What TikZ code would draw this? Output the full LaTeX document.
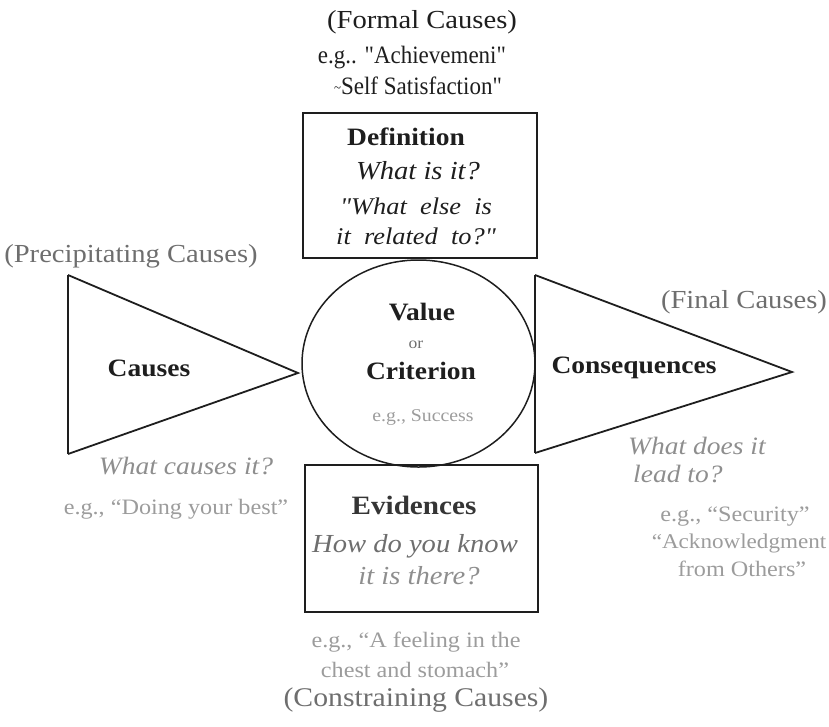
\documentclass[tikz,border=0pt]{standalone}
\usepackage{fontspec}
\setmainfont{Liberation Serif}[FakeStretch=1.1, Ligatures=TeXOff]
\newfontfamily\narrowfont{Liberation Serif}[FakeStretch=0.92, Ligatures=TeXOff]
\usetikzlibrary{shapes.geometric}
\definecolor{ink}{HTML}{1E1E1E}
\definecolor{midgray}{HTML}{6E6E6E}
\definecolor{lightgray}{HTML}{8E8E8E}
\definecolor{palegray}{HTML}{9C9C9C}
\newcommand{\sq}{\symbol{"22}}
\tikzset{
  box/.style={draw=ink, line width=1.8pt},
  tri/.style={draw=ink, line width=1.8pt, line join=miter},
  bold/.style={font=\fontsize{25}{28}\selectfont\bfseries, text=ink, inner sep=0pt},
  ital/.style={font=\fontsize{24}{28}\selectfont\itshape, text=ink, inner sep=0pt},
  grayital/.style={font=\fontsize{25}{28}\selectfont\itshape, text=lightgray, inner sep=0pt},
  grayhead/.style={font=\fontsize{26}{28}\selectfont, text=midgray, inner sep=0pt},
  grayeg/.style={font=\fontsize{22}{26}\selectfont, text=palegray, inner sep=0pt, align=center},
  tophead/.style={font=\fontsize{26}{28}\selectfont, text=ink, inner sep=0pt},
  topeg/.style={font=\narrowfont\fontsize{25}{28}\selectfont, text=ink, inner sep=0pt}
}
\begin{document}
\begin{tikzpicture}[x=1pt,y=-1pt]
\useasboundingbox (0,0) rectangle (829,726);
% shapes
\node[box, draw, minimum width=234pt, minimum height=145pt, inner sep=0pt] (defbox) at (420,185.5) {};
\node[box, draw, minimum width=233pt, minimum height=147pt, inner sep=0pt] (evbox) at (421.5,538.5) {};
\node[ellipse, draw=ink, line width=1.5pt, minimum width=233pt, minimum height=207pt, inner sep=0pt] (val) at (418.5,363.5) {};
\coordinate (lt) at (68,275);
\coordinate (lb) at (68,454);
\coordinate (ltip) at (298,373);
\coordinate (rt) at (535,275);
\coordinate (rb) at (535,453);
\coordinate (rtip) at (792,372);
\draw[tri] (lt) -- (ltip) -- (lb);
\draw[draw=ink, line width=1.2pt] (lt) -- (lb);
\draw[tri] (rt) -- (rtip) -- (rb);
\draw[draw=ink, line width=1.2pt] (rt) -- (rb);
% top texts
\node[tophead] (formal) at (422,22) {(Formal Causes)};
\node[topeg] (eg1) at (412,58) {e.g.. \sq Achievemeni\sq};
\node[topeg] (eg2) at (418,86) {\raisebox{0.2ex}{\fontsize{14}{14}\selectfont\textasciitilde}Self Satisfaction\sq};
% definition
\node[bold] (deft) at (406,137) {Definition};
\node[font=\fontsize{26}{28}\selectfont\itshape, text=ink, inner sep=0pt] (q1) at (418,171) {What is it?};
\node[ital] (q2) at (416,206) {\sq What\ \ else\ \ is};
\node[ital] (q3) at (416,236) {it\ \ related\ \ to?\sq};
% value
\node[bold] (valt) at (422,312) {Value};
\node[font=\fontsize{16}{18}\selectfont, text=midgray, inner sep=0pt] (ort) at (416,345) {or};
\node[bold] (crit) at (421,371) {Criterion};
\node[font=\fontsize{18}{20}\selectfont, text=palegray, inner sep=0pt] (egs) at (423,417) {e.g., Success};
% left
\node[grayhead] (prec) at (131,256) {(Precipitating Causes)};
\node[bold] (caus) at (149,368) {Causes};
\node[grayital] (wc) at (186,466) {What causes it?};
\node[grayeg] (egd) at (176,509) {e.g., “Doing your best”};
% right
\node[grayhead] (fin) at (744,302) {(Final Causes)};
\node[bold] (cons) at (634,368) {Consequences};
\node[grayital, anchor=west] (wd) at (628,446) {What does it};
\node[grayital, anchor=west] (lt2) at (633,474) {lead to?};
\node[grayeg] (egsec) at (735,517) {e.g., “Security”};
\node[grayeg, font=\fontsize{21}{26}\selectfont] (egack) at (739,543) {“Acknowledgment};
\node[grayeg] (egoth) at (742,569) {from Others”};
% bottom
\node[bold, font=\fontsize{26.5}{28}\selectfont\bfseries, text=ink!90] (evt) at (414,505) {Evidences};
\node[ital, font=\fontsize{26}{28}\selectfont\itshape, text=midgray] (h1) at (415,546) {How do you know};
\node[ital, font=\fontsize{26}{28}\selectfont\itshape, text=lightgray] (h2) at (419,576) {it is there?};
\node[grayeg] (egf1) at (416,642) {e.g., “A feeling in the};
\node[grayeg] (egf2) at (415,670) {chest and stomach”};
\node[grayhead, font=\fontsize{27}{28}\selectfont] (constr) at (416,700) {(Constraining Causes)};
\end{tikzpicture}
\end{document}
